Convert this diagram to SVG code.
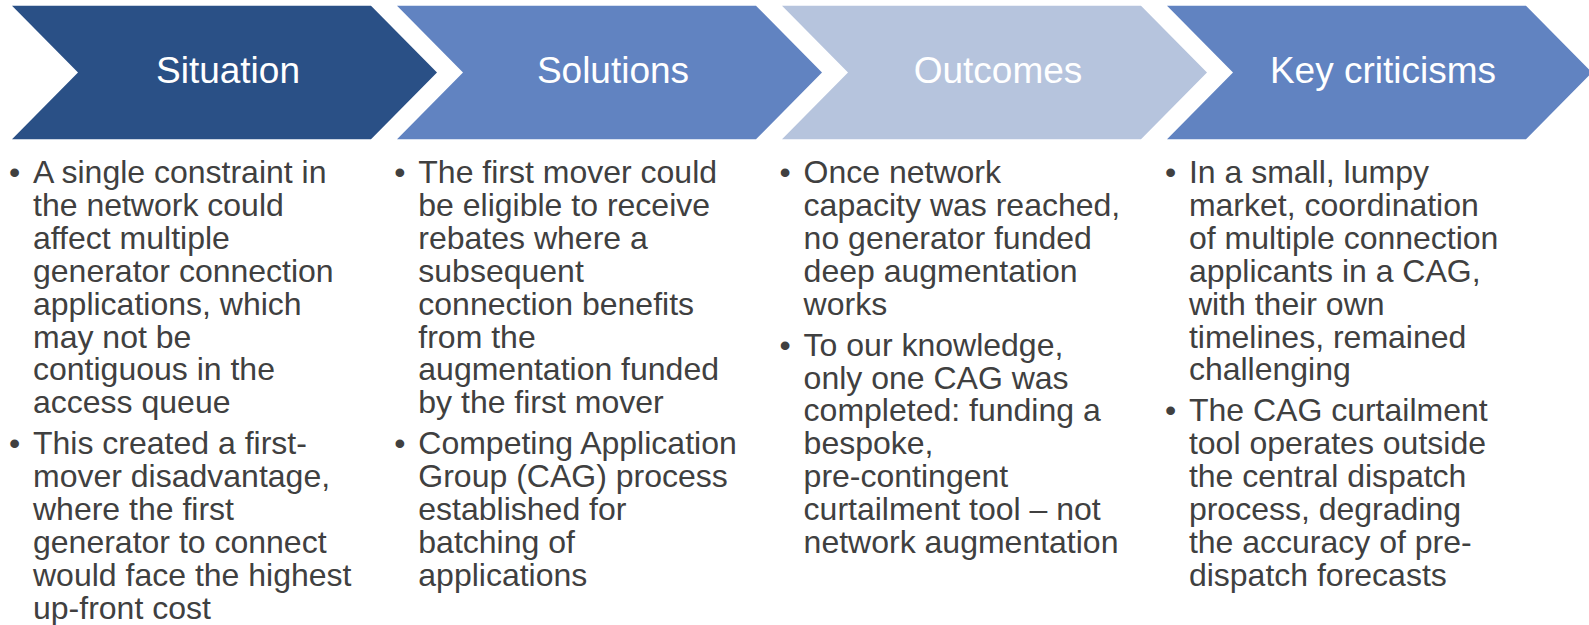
<svg xmlns="http://www.w3.org/2000/svg" width="1589" height="625" viewBox="0 0 1589 625">
  <style>
    .head { font-family: "Liberation Sans", Arial, sans-serif; font-size: 37px; fill: #FFFFFF; text-anchor: middle; }
    .body { font-family: "Liberation Sans", Arial, sans-serif; font-size: 32px; fill: #404040; }
    .c1 { fill: #2A5086; }
    .c2 { fill: #6183C1; }
    .c3 { fill: #B6C4DD; }
  </style>
  <defs>
    <!-- one chevron step: notch 66 deep, point 66 deep, 133 tall -->
    <path id="chevron" d="M0,5.7 H359 L425,72.5 L359,139.3 H0 L66,72.5 Z"/>
  </defs>
  <rect width="1589" height="625" fill="#FFFFFF"/>

  <g id="situation">
    <use href="#chevron" x="12" class="c1"/>
    <text class="head" x="228" y="83">Situation</text>
    <text class="body" y="183">
      <tspan x="9">•</tspan>
      <tspan x="33" y="183">A single constraint in</tspan>
      <tspan x="33" dy="32.9">the network could</tspan>
      <tspan x="33" dy="32.9">affect multiple</tspan>
      <tspan x="33" dy="32.9">generator connection</tspan>
      <tspan x="33" dy="32.9">applications, which</tspan>
      <tspan x="33" dy="32.9">may not be</tspan>
      <tspan x="33" dy="32.9">contiguous in the</tspan>
      <tspan x="33" dy="32.9">access queue</tspan>
    </text>
    <text class="body" y="454">
      <tspan x="9">•</tspan>
      <tspan x="33" y="454">This created a first-</tspan>
      <tspan x="33" dy="32.9">mover disadvantage,</tspan>
      <tspan x="33" dy="32.9">where the first</tspan>
      <tspan x="33" dy="32.9">generator to connect</tspan>
      <tspan x="33" dy="32.9">would face the highest</tspan>
      <tspan x="33" dy="32.9">up-front cost</tspan>
    </text>
  </g>

  <g id="solutions">
    <use href="#chevron" x="397" class="c2"/>
    <text class="head" x="613" y="83">Solutions</text>
    <text class="body" y="183">
      <tspan x="394.3">•</tspan>
      <tspan x="418.3" y="183">The first mover could</tspan>
      <tspan x="418.3" dy="32.9">be eligible to receive</tspan>
      <tspan x="418.3" dy="32.9">rebates where a</tspan>
      <tspan x="418.3" dy="32.9">subsequent</tspan>
      <tspan x="418.3" dy="32.9">connection benefits</tspan>
      <tspan x="418.3" dy="32.9">from the</tspan>
      <tspan x="418.3" dy="32.9">augmentation funded</tspan>
      <tspan x="418.3" dy="32.9">by the first mover</tspan>
    </text>
    <text class="body" y="454">
      <tspan x="394.3">•</tspan>
      <tspan x="418.3" y="454">Competing Application</tspan>
      <tspan x="418.3" dy="32.9">Group (CAG) process</tspan>
      <tspan x="418.3" dy="32.9">established for</tspan>
      <tspan x="418.3" dy="32.9">batching of</tspan>
      <tspan x="418.3" dy="32.9">applications</tspan>
    </text>
  </g>

  <g id="outcomes">
    <use href="#chevron" x="782" class="c3"/>
    <text class="head" x="998" y="83">Outcomes</text>
    <text class="body" y="183">
      <tspan x="779.6">•</tspan>
      <tspan x="803.6" y="183">Once network</tspan>
      <tspan x="803.6" dy="32.9">capacity was reached,</tspan>
      <tspan x="803.6" dy="32.9">no generator funded</tspan>
      <tspan x="803.6" dy="32.9">deep augmentation</tspan>
      <tspan x="803.6" dy="32.9">works</tspan>
    </text>
    <text class="body" y="355.6">
      <tspan x="779.6">•</tspan>
      <tspan x="803.6" y="355.6">To our knowledge,</tspan>
      <tspan x="803.6" dy="32.9">only one CAG was</tspan>
      <tspan x="803.6" dy="32.9">completed: funding a</tspan>
      <tspan x="803.6" dy="32.9">bespoke,</tspan>
      <tspan x="803.6" dy="32.9">pre-contingent</tspan>
      <tspan x="803.6" dy="32.9">curtailment tool – not</tspan>
      <tspan x="803.6" dy="32.9">network augmentation</tspan>
    </text>
  </g>

  <g id="key-criticisms">
    <use href="#chevron" x="1167" class="c2"/>
    <text class="head" x="1383" y="83">Key criticisms</text>
    <text class="body" y="183">
      <tspan x="1164.9">•</tspan>
      <tspan x="1188.9" y="183">In a small, lumpy</tspan>
      <tspan x="1188.9" dy="32.9">market, coordination</tspan>
      <tspan x="1188.9" dy="32.9">of multiple connection</tspan>
      <tspan x="1188.9" dy="32.9">applicants in a CAG,</tspan>
      <tspan x="1188.9" dy="32.9">with their own</tspan>
      <tspan x="1188.9" dy="32.9">timelines, remained</tspan>
      <tspan x="1188.9" dy="32.9">challenging</tspan>
    </text>
    <text class="body" y="421.4">
      <tspan x="1164.9">•</tspan>
      <tspan x="1188.9" y="421.4">The CAG curtailment</tspan>
      <tspan x="1188.9" dy="32.9">tool operates outside</tspan>
      <tspan x="1188.9" dy="32.9">the central dispatch</tspan>
      <tspan x="1188.9" dy="32.9">process, degrading</tspan>
      <tspan x="1188.9" dy="32.9">the accuracy of pre-</tspan>
      <tspan x="1188.9" dy="32.9">dispatch forecasts</tspan>
    </text>
  </g>
</svg>
